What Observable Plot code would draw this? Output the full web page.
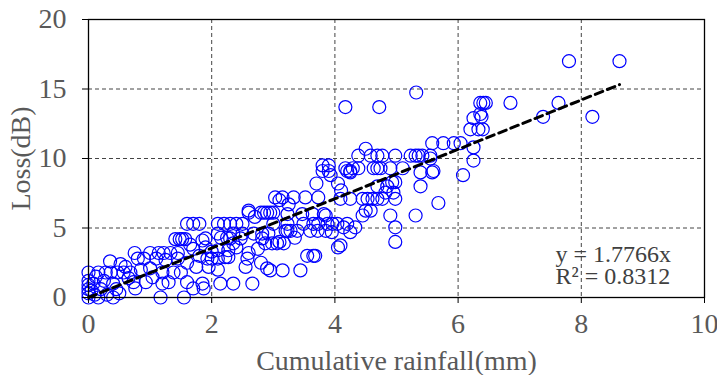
<!DOCTYPE html>
<html>
<head>
<meta charset="utf-8">
<script src="https://cdn.jsdelivr.net/npm/d3@7"></script>
<script src="https://cdn.jsdelivr.net/npm/@observablehq/plot@0.6"></script>
<style>
  html, body { margin: 0; padding: 0; background: #fff; }
  #chart { width: 717px; height: 375px; }
  #chart svg text { font-family: "Liberation Serif", "Times New Roman", serif !important; }
</style>
</head>
<body>
<div id="chart"></div>
<script>
// Observed points: cumulative rainfall (mm) and loss (dB)
const rainfall = [
  0,0,0,0,0,0,0.05,0.08,0.1,0.12,0.16,0.2,0.25,0.3,0.4,0.45,0.5,0.16,0.28,0.36,0.47,0.57,0.68,0.52,0.35,0.6,0.73,0.93,0.76,0.65,0.8,0.9,0.75,1.0,1.14,1.22,1.33,1.45,1.1,1.25,1.45,1.04,1.2,1.38,1.5,1.3,1.6,1.17,1.55,1.7,1.87,1.0,0.85,1.2,0.4,
  1.41,1.48,1.52,1.57,1.85,1.6,1.7,1.8,2.1,2.2,2.3,2.4,2.5,2.6,2.15,2.25,1.9,2.3,2.47,2.82,2.1,2.35,2.5,2.68,2.82,2.92,2.35,2.27,2.1,2.22,2.27,1.93,2.0,2.1,2.58,2.1,1.85,2.14,2.35,2.66,1.7,1.8,1.6,1.9,1.75,1.65,2.0,1.95,2.4,2.6,2.75,2.9,
  2.6,2.8,2.85,2.9,2.95,3.0,3.23,3.47,3.64,3.82,3.03,3.15,3.33,3.52,3.73,3.1,3.25,3.0,3.23,3.49,3.65,3.73,3.88,3.96,4.04,4.2,3.2,3.23,3.28,3.39,3.6,3.72,3.85,2.87,2.98,3.06,3.17,4.05,3.55,3.65,3.68,2.95,3.15,3.44,3.7,4.05,3.8,3.9,3.8,3.9,3.93,4.2,4.25,3.85,3.95,2.7,3.1,3.35,2.55,2.8,
  4.17,4.72,5.32,4.5,4.38,4.58,4.69,4.77,4.98,5.23,5.31,5.36,5.42,5.55,4.17,4.29,4.38,4.63,4.69,4.74,4.9,5.1,4.25,5.39,5.58,4.93,4.98,4.69,4.85,5.39,4.1,4.82,4.95,4.09,4.25,4.45,4.53,4.61,4.69,4.77,4.98,5.68,4.5,4.58,4.45,4.9,5.31,4.14,4.33,4.98,4.25,4.98,4.09,
  5.58,5.76,5.93,6.04,6.25,6.25,6.08,5.55,5.6,6.2,6.33,6.4,6.25,6.36,6.38,6.36,6.41,6.45,6.85,7.63,7.38,8.18,7.8,8.62
];
const loss = [
  0,0.3,0.6,0.9,1.2,1.8,0.5,1.0,0.2,1.5,0,0.6,1.2,0.2,0,0.6,0.3,1.8,1.8,1.8,1.8,1.8,1.8,2.4,2.6,2.2,1.1,1.1,0.65,1.4,2.8,2.8,3.2,3.2,3.2,3.2,3.2,3.2,2.8,2.7,2.8,1.45,1.8,1.8,1.8,1.1,1.1,0,0,0.65,0.65,2.1,2.0,1.0,1.0,
  4.2,4.2,4.2,4.2,4.1,5.3,5.3,5.3,5.3,5.3,5.3,5.3,5.3,6.25,4.3,4.3,4.25,4.25,4.25,4.25,4.6,4.6,4.6,4.6,4.6,4.6,3.9,3.4,3.4,2.9,2.9,2.8,2.8,2.8,2.8,2.0,1.0,1.0,1.0,1.0,3.5,3.0,2.5,3.6,2.2,3.8,3.3,2.2,3.6,3.2,3.5,2.1,
  6.1,6.1,6.1,6.1,6.1,6.1,6.0,6.0,6.0,6.0,7.2,7.2,7.2,7.2,7.2,7.0,6.7,5.3,5.3,5.3,5.3,5.3,5.3,5.3,5.3,5.3,4.8,4.8,4.8,4.8,4.8,4.8,4.8,3.9,3.9,3.9,3.9,3.6,3.0,3.0,3.0,1.95,1.95,1.95,8.2,8.2,9.5,9.5,9.1,9.1,8.8,9.1,9.1,5.9,4.7,5.8,4.0,4.3,2.2,2.5,
  13.7,13.7,14.75,10.7,10.2,10.2,10.2,10.2,10.2,10.2,10.2,10.2,10.2,10.2,9.3,9.3,9.3,9.3,9.3,9.3,9.3,9.3,9.0,9.0,9.0,8.3,8.3,8.0,8.0,8.0,7.7,7.55,7.55,7.1,7.1,7.1,7.1,7.1,7.1,7.1,7.1,6.8,6.25,6.25,5.9,5.9,5.9,5.05,5.05,5.05,4.7,4.0,3.75,
  11.1,11.1,11.1,11.1,10.8,9.85,8.8,10.0,9.1,12.1,12.1,12.1,12.9,13.2,13.0,14.0,14.0,14.0,14.0,14.0,13.0,13.0,17.0,17.0
];
const slope = 1.7766;
const rSquared = 0.8312;
const trendRange = [0, 8.62];
const xTicks = [0, 2, 4, 6, 8, 10];
const yTicks = [0, 5, 10, 15, 20];
const xGrid = [2, 4, 6, 8];
const yGrid = [5, 10, 15];

const points = rainfall.map((x, i) => ({x, y: loss[i]}));
const trend = trendRange.map(x => ({x, y: slope * x}));
const serif = "Liberation Serif";
const annotation = `y = ${slope}x\nR² = ${rSquared}`;

const chart = Plot.plot({
  width: 717,
  height: 375,
  marginLeft: 88,
  marginRight: 13,
  marginTop: 19,
  marginBottom: 78,
  style: {fontFamily: serif, fontSize: "28px", background: "#fff", overflow: "visible"},
  x: {domain: [0, 10]},
  y: {domain: [0, 20]},
  marks: [
    Plot.ruleX(xGrid, {stroke: "#444", strokeWidth: 1, strokeDasharray: "4,3"}),
    Plot.ruleY(yGrid, {stroke: "#444", strokeWidth: 1, strokeDasharray: "4,3"}),
    Plot.dot(points, {x: "x", y: "y", r: 6.5, stroke: "#0000ff", strokeWidth: 1.2, fill: "none"}),
    Plot.line(trend, {x: "x", y: "y", stroke: "#000", strokeWidth: 3, strokeDasharray: "8,5"}),
    Plot.frame({stroke: "#000", strokeWidth: 1.3}),
    Plot.axisX({ticks: xTicks, tickSize: 6, tickPadding: 10, stroke: "#000", fill: "#595959",
      fontFamily: serif, fontSize: 28,
      label: "Cumulative rainfall(mm)", labelAnchor: "center", labelArrow: "none", labelOffset: 72}),
    Plot.axisY({ticks: yTicks, tickSize: 6, tickPadding: 16, stroke: "#000", fill: "#595959",
      fontFamily: serif, fontSize: 28,
      label: "Loss(dB)", labelAnchor: "center", labelArrow: "none", labelOffset: 78}),
    Plot.text([annotation], {frameAnchor: "bottom-right", dx: -149, dy: -32, textAnchor: "start", lineAnchor: "middle", lineHeight: 0.92, fontFamily: serif, fontSize: 24, fill: "#404040"})
  ]
});
document.getElementById("chart").appendChild(chart);
</script>
</body>
</html>
